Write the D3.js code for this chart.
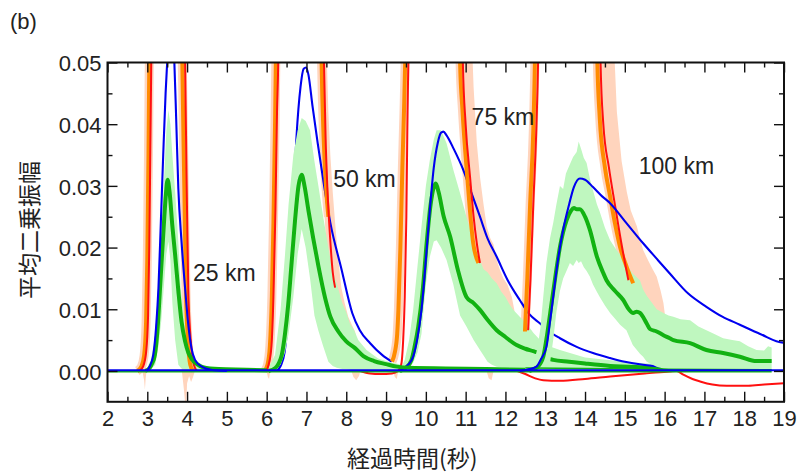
<!DOCTYPE html>
<html>
<head>
<meta charset="utf-8">
<script src="https://cdn.jsdelivr.net/npm/d3@7"></script>
<style>
  body { margin: 0; background: #fff; }
  svg text { fill: #222; }
  .latin { font-family: "Liberation Sans", Arial, sans-serif; }
  .cjk { font-family: "Noto Sans CJK JP", sans-serif; }
</style>
</head>
<body>
<svg id="chart" width="803" height="476"></svg>
<script>
// Axis ticks
const xTickValues = [2, 3, 4, 5, 6, 7, 8, 9, 10, 11, 12, 13, 14, 15, 16, 17, 18, 19];
const xMinorTicks = [2.5, 3.5, 4.5, 5.5, 6.5, 7.5, 8.5, 9.5, 10.5, 11.5, 12.5, 13.5, 14.5, 15.5, 16.5, 17.5, 18.5];
const yTickValues = [0, 0.01, 0.02, 0.03, 0.04, 0.05];
const yTickLabels = ["0.00", "0.01", "0.02", "0.03", "0.04", "0.05"];
const yMinorTicks = [0.005, 0.015, 0.025, 0.035, 0.045];

// Distance labels: [text, time, amplitude]
const distanceLabels = [["25 km", 4.15, 0.0146], ["50 km", 7.67, 0.0298], ["75 km", 11.15, 0.0399], ["100 km", 15.35, 0.0319]];

// Observed envelopes (orange) and synthetic envelopes (red): [time, amplitude]
const orange25 = [[2.75,0],[2.85,0.0007],[2.92,0.0025],[2.97,0.008],[3.00,0.018],[3.03,0.035],[3.05,0.05],[3.08,0.07],[3.85,0.07],[3.88,0.05],[3.93,0.03],[3.97,0.0134],[4.02,0.005],[4.08,0.001],[4.15,0]];
const red25 = [[2.80,0],[2.90,0.0008],[2.97,0.003],[3.02,0.009],[3.05,0.02],[3.08,0.038],[3.10,0.05],[3.13,0.07],[3.92,0.07],[3.95,0.05],[3.99,0.03],[4.03,0.0134],[4.07,0.007],[4.11,0.0037],[4.17,0.001],[4.25,0]];
const orange50 = [[5.95,0],[6.02,0.001],[6.08,0.004],[6.13,0.012],[6.17,0.024],[6.21,0.04],[6.23,0.05],[6.26,0.07],[7.34,0.07],[7.38,0.05],[7.43,0.038],[7.49,0.030],[7.55,0.025]];
const red50 = [[5.98,0],[6.05,0.001],[6.12,0.004],[6.17,0.012],[6.22,0.026],[6.26,0.042],[6.29,0.05],[6.32,0.07],[7.40,0.07],[7.44,0.05],[7.48,0.038],[7.53,0.029],[7.59,0.022],[7.66,0.016],[7.72,0.0135]];
const orange75 = [[9.15,0.0015],[9.22,0.003],[9.28,0.006],[9.31,0.0099],[9.36,0.02],[9.41,0.033],[9.45,0.042],[9.48,0.05],[9.52,0.07],[10.82,0.07],[10.86,0.05],[10.92,0.0423],[11.04,0.0315],[11.19,0.0207],[11.32,0.0175]];
const red75 = [[8.35,0],[8.60,-0.0004],[8.85,-0.0005],[9.15,-0.0004],[9.30,0],[9.38,0.001],[9.43,0.005],[9.47,0.012],[9.51,0.025],[9.54,0.042],[9.56,0.05],[9.60,0.07],[10.88,0.07],[10.93,0.05],[11.00,0.040],[11.11,0.0315],[11.20,0.025],[11.28,0.0207],[11.36,0.0175]];
const orange100 = [[12.49,0.0064],[12.55,0.015],[12.62,0.027],[12.70,0.039],[12.74,0.05],[12.78,0.07],[14.26,0.07],[14.31,0.05],[14.37,0.041],[14.50,0.033],[14.63,0.0283],[14.75,0.024],[14.88,0.0201],[15.05,0.0168],[15.21,0.0142]];
const red100 = [[12.57,0.0066],[12.63,0.015],[12.70,0.027],[12.78,0.040],[12.82,0.05],[12.86,0.07],[14.34,0.07],[14.39,0.05],[14.46,0.040],[14.60,0.033],[14.75,0.027],[14.93,0.0201],[15.09,0.0147]];
const redTail = [[12.30,0],[12.50,-0.0005],[12.75,-0.0012],[12.95,-0.0015],[13.37,-0.0016],[14.00,-0.0013],[14.63,-0.0009],[15.50,-0.0004],[16.13,-0.0001],[16.30,0],[16.47,-0.0006],[16.70,-0.0013],[16.89,-0.0017],[17.20,-0.0022],[17.56,-0.0024],[18.10,-0.0024],[18.50,-0.0022],[19.00,-0.0020]];

// Spread of the observed envelopes (peach outlines)
const peachTail50 = [[7.30,0.06],[7.47,0.06],[7.55,0.042],[7.60,0.035],[7.66,0.029],[7.72,0.024],[7.80,0.018],[7.88,0.0134],[7.96,0.011],[8.05,0.0088],[8.14,0.0075],[8.22,0.0064],[8.28,0.0045],[8.20,0.0035],[8.05,0.0040],[7.92,0.0050],[7.80,0.0064],[7.70,0.0085],[7.62,0.0115],[7.55,0.016],[7.48,0.022],[7.42,0.030],[7.37,0.040],[7.33,0.050]];
const peachTail75 = [[10.78,0.06],[11.12,0.06],[11.20,0.046],[11.28,0.037],[11.36,0.0315],[11.45,0.027],[11.53,0.0234],[11.62,0.0215],[11.70,0.0205],[11.78,0.0180],[11.86,0.0164],[11.95,0.0150],[12.05,0.0140],[12.16,0.0120],[12.22,0.0100],[12.25,0.0085],[12.15,0.0078],[12.00,0.0070],[11.85,0.0058],[11.72,0.0045],[11.62,0.0030],[11.52,0.0025],[11.45,0.0050],[11.40,0.0090],[11.34,0.0140],[11.25,0.0190],[11.15,0.0240],[11.05,0.0300],[10.95,0.0370],[10.86,0.0460]];
const peachTail100 = [[14.24,0.06],[14.68,0.06],[14.80,0.042],[14.92,0.034],[15.05,0.029],[15.15,0.026],[15.21,0.0250],[15.30,0.0235],[15.38,0.0215],[15.46,0.0196],[15.58,0.0180],[15.70,0.0165],[15.80,0.0153],[15.90,0.0130],[15.97,0.0110],[16.02,0.0085],[16.05,0.0061],[16.15,0.0035],[16.30,0.0015],[16.10,0.0008],[15.90,0.0008],[15.70,0.0015],[15.55,0.0025],[15.46,0.0034],[15.35,0.0055],[15.25,0.0072],[15.12,0.0105],[15.00,0.0140],[14.88,0.0185],[14.72,0.0250],[14.58,0.0320],[14.45,0.0400],[14.34,0.0500]];
const peachDips = [
  [[2.86,0.0005],[2.92,-0.0015],[2.94,-0.0030],[2.96,-0.0012],[2.99,0.0005]],
  [[3.86,0.0005],[3.92,-0.0030],[3.95,-0.0052],[3.98,-0.0052],[4.00,-0.0020],[4.05,-0.0008],[4.10,-0.0018],[4.15,-0.0010],[4.22,0.0005]],
  [[5.98,0.0005],[6.03,-0.0010],[6.06,-0.0013],[6.10,0.0005]],
  [[8.10,0.0005],[8.18,-0.0010],[8.25,-0.0015],[8.32,-0.0008],[8.38,0.0005]],
  [[9.15,0.0005],[9.22,-0.0010],[9.27,-0.0013],[9.32,0.0005]],
  [[11.50,0.0005],[11.58,-0.0012],[11.65,-0.0015],[11.72,0.0005]]
];

// Model envelopes (blue): [time, amplitude]
const blue25 = [[2.98,0],[3.05,0.0006],[3.15,0.0026],[3.22,0.007],[3.28,0.0134],[3.34,0.024],[3.40,0.035],[3.46,0.045],[3.50,0.05],[3.55,0.056],[3.59,0.057],[3.64,0.054],[3.68,0.05],[3.73,0.040],[3.78,0.0296],[3.86,0.021],[3.95,0.0134],[4.03,0.0075],[4.11,0.0037],[4.20,0.0018],[4.37,0.0007],[4.60,0.0002],[5.00,0]];
const blue50 = [[6.25,0],[6.35,0.0008],[6.45,0.003],[6.55,0.010],[6.65,0.024],[6.75,0.038],[6.85,0.046],[6.93,0.049],[6.99,0.0492],[7.05,0.048],[7.15,0.043],[7.28,0.037],[7.42,0.031],[7.60,0.024],[7.88,0.0165],[8.15,0.0094],[8.34,0.0066],[8.60,0.0045],[8.90,0.0026],[9.14,0.0015]];
const blue75 = [[9.35,0],[9.43,0.0004],[9.55,0.001],[9.68,0.0023],[9.78,0.005],[9.89,0.0099],[10.00,0.018],[10.10,0.0261],[10.20,0.033],[10.30,0.037],[10.38,0.0386],[10.44,0.0388],[10.52,0.0382],[10.70,0.036],[10.94,0.0326],[11.15,0.0288],[11.36,0.025],[11.55,0.0215],[11.78,0.0185],[12.05,0.0148],[12.36,0.0115],[12.60,0.0092],[12.87,0.0077],[13.12,0.0063],[13.37,0.0053],[13.79,0.0039],[14.20,0.0029],[14.63,0.0021],[15.00,0.0015],[15.46,0.001],[16.13,0.0006],[16.80,0.0003],[17.30,0.0001]];
const blue100 = [[12.36,0],[12.60,0.0003],[12.78,0.0007],[12.90,0.002],[13.03,0.0039],[13.12,0.008],[13.20,0.012],[13.32,0.018],[13.45,0.0229],[13.60,0.027],[13.72,0.0298],[13.87,0.0312],[14.00,0.031],[14.20,0.0298],[14.43,0.0283],[14.63,0.0272],[15.00,0.0243],[15.46,0.0207],[15.80,0.0182],[16.13,0.0158],[16.60,0.0125],[17.05,0.0104],[17.45,0.0088],[17.89,0.0075],[18.40,0.006],[18.98,0.0046],[19.00,0.0046]];
const blueBase = [[2,0.0001],[19,0.0001]];

// Mean of the simulations (green) and its spread: [time, amplitude], [time, low, high]
const green25 = [[2.95,0],[3.05,0.0004],[3.12,0.0012],[3.19,0.0026],[3.26,0.007],[3.32,0.0134],[3.40,0.022],[3.46,0.028],[3.51,0.031],[3.56,0.029],[3.63,0.0235],[3.70,0.0188],[3.78,0.013],[3.86,0.008],[3.95,0.0048],[4.03,0.003],[4.11,0.002],[4.25,0.0011],[4.40,0.0006],[4.80,0.0003],[5.50,0.0002],[6.00,0.0001]];
const green50 = [[6.05,0],[6.22,0.0005],[6.30,0.0012],[6.38,0.0026],[6.46,0.006],[6.54,0.0107],[6.62,0.017],[6.71,0.0242],[6.80,0.030],[6.88,0.0318],[6.95,0.030],[7.05,0.026],[7.17,0.0215],[7.30,0.017],[7.47,0.0118],[7.60,0.0088],[7.80,0.0064],[8.00,0.0048],[8.22,0.0037],[8.43,0.0024],[8.70,0.0016],[9.00,0.0011],[9.27,0.0007],[9.60,0.0005],[10.50,0.0004],[11.50,0.0003],[12.50,0.0002]];
const green75 = [[9.35,0],[9.50,0.0005],[9.64,0.0018],[9.72,0.004],[9.81,0.0072],[9.92,0.013],[10.02,0.0207],[10.12,0.027],[10.20,0.0298],[10.25,0.0304],[10.32,0.029],[10.45,0.025],[10.61,0.0218],[10.80,0.0165],[11.02,0.012],[11.20,0.011],[11.36,0.0099],[11.55,0.0083],[11.78,0.0066],[12.00,0.0055],[12.28,0.0042],[12.50,0.0036],[12.70,0.0032],[12.87,0.0028],[13.00,0.0022],[13.20,0.0018],[13.60,0.0015],[14.00,0.0012],[14.63,0.0008],[15.50,0.0006],[16.13,0.0005],[16.50,0.0004],[17.30,0.0002]];
const green100 = [[12.60,0],[12.80,0.0006],[12.95,0.0023],[13.05,0.006],[13.16,0.011],[13.27,0.016],[13.37,0.0201],[13.54,0.0245],[13.65,0.026],[13.72,0.0264],[13.79,0.0262],[13.87,0.0262],[14.00,0.025],[14.12,0.0229],[14.30,0.0185],[14.45,0.016],[14.54,0.0147],[14.75,0.013],[14.96,0.0115],[15.10,0.010],[15.21,0.0094],[15.30,0.0096],[15.38,0.0094],[15.55,0.0077],[15.63,0.0068],[15.80,0.0064],[15.97,0.0058],[16.13,0.0053],[16.22,0.005],[16.64,0.0045],[17.05,0.0034],[17.47,0.0029],[17.89,0.0023],[18.31,0.0016],[18.50,0.0016],[18.69,0.0016]];
const greenBase = [[2,-0.00012],[18.69,-0.00012]];
const greenLow = [[12.50,0.0005],[14.00,0.0004],[16.00,0.0003],[18.69,0.0002]];

const band25 = [[3.00,0,0.0005],[3.10,0.0003,0.002],[3.20,0.001,0.006],[3.28,0.004,0.0135],[3.35,0.008,0.022],[3.42,0.014,0.031],[3.48,0.019,0.039],[3.53,0.021,0.0423],[3.58,0.018,0.040],[3.63,0.011,0.035],[3.70,0.005,0.029],[3.78,0.001,0.021],[3.84,0.0005,0.0134],[3.93,0.0002,0.008],[4.03,0,0.0037],[4.20,0,0.0018],[4.40,0,0.0009],[4.60,0,0.0004]];
const band50 = [[6.05,0,0.0005],[6.21,0.0002,0.0026],[6.35,0.001,0.010],[6.46,0.003,0.0188],[6.55,0.006,0.027],[6.67,0.012,0.035],[6.78,0.019,0.039],[6.88,0.023,0.041],[6.98,0.020,0.0405],[7.09,0.015,0.039],[7.20,0.009,0.034],[7.30,0.0065,0.030],[7.42,0.004,0.025],[7.55,0.0015,0.020],[7.66,0.0008,0.016],[7.76,0.0005,0.0142],[7.90,0.0003,0.011],[8.00,0.0003,0.0095],[8.09,0.0002,0.0077],[8.20,0.0001,0.0066],[8.30,0,0.005],[8.51,0,0.0034],[8.80,0,0.002],[9.10,0,0.0014],[9.40,0,0.001]];
const band75 = [[9.40,0,0.0008],[9.47,0.0002,0.0018],[9.58,0.0005,0.005],[9.68,0.0013,0.0099],[9.79,0.003,0.017],[9.89,0.006,0.0234],[10.00,0.014,0.030],[10.10,0.0185,0.0342],[10.20,0.021,0.0375],[10.27,0.0212,0.039],[10.38,0.020,0.039],[10.52,0.018,0.0369],[10.69,0.014,0.0326],[10.86,0.009,0.0288],[11.02,0.0072,0.025],[11.20,0.005,0.021],[11.36,0.0034,0.018],[11.45,0.0025,0.0165],[11.55,0.0015,0.016],[11.66,0.001,0.0150],[11.78,0.0007,0.0142],[11.90,0.0006,0.0128],[12.00,0.0005,0.012],[12.10,0.0005,0.0108],[12.20,0.0004,0.0099],[12.36,0.0003,0.0088],[12.53,0.0003,0.0077],[12.70,0.0002,0.0062],[12.87,0.0002,0.005],[13.10,0.0002,0.0040],[13.37,0.0002,0.0034],[14.00,0.0001,0.0022],[15.00,0,0.0015],[16.00,0,0.001],[16.50,0,0.0007]];
const band100 = [[12.70,0,0.0012],[12.80,0.0002,0.0035],[12.88,0.0004,0.0070],[12.95,0.0005,0.0120],[13.03,0.0008,0.0175],[13.12,0.0013,0.0215],[13.20,0.0050,0.0240],[13.28,0.0095,0.0270],[13.37,0.0130,0.0300],[13.45,0.0150,0.0295],[13.52,0.0160,0.0320],[13.62,0.0175,0.0335],[13.70,0.0170,0.0347],[13.79,0.0180,0.0355],[13.84,0.0175,0.0372],[13.90,0.0178,0.0360],[13.97,0.0168,0.0345],[14.04,0.0162,0.0337],[14.12,0.0153,0.0312],[14.20,0.0140,0.0293],[14.30,0.0128,0.0270],[14.37,0.0120,0.0258],[14.50,0.0106,0.0232],[14.63,0.0094,0.0212],[14.75,0.0085,0.0200],[14.88,0.0075,0.0188],[15.04,0.0066,0.0172],[15.20,0.0042,0.0158],[15.38,0.0028,0.0147],[15.46,0.0023,0.0132],[15.55,0.0015,0.0122],[15.63,0.0012,0.0115],[15.80,0.0007,0.0100],[15.97,0.0004,0.0094],[16.10,0.0003,0.0090],[16.22,0.0002,0.0088],[16.40,0.0002,0.0084],[16.64,0.0001,0.0082],[16.85,0.0001,0.0072],[17.05,0,0.0066],[17.25,0,0.0060],[17.47,0,0.0053],[17.70,0,0.0050],[17.89,0,0.0048],[18.10,0,0.0040],[18.31,0,0.0034],[18.50,0,0.0033],[18.60,0,0.0040],[18.69,0,0.0038]];

// Layout
const W = 803, H = 476;
const plot = { left: 107.5, right: 784, top: 62.5, bottom: 401.8 };

const colors = {
  orange: "#ff8c00", red: "#ff1010", blue: "#0000f0",
  green: "#12b212", band: "#bff7bf", peach: "#ffd4bd", axis: "#111"
};

const svg = d3.select("#chart");
const x = d3.scaleLinear().domain([2, 19]).range([plot.left, plot.right]);
const y = d3.scaleLinear().domain([-0.005, 0.05]).range([plot.bottom, plot.top]);

svg.append("defs").append("clipPath").attr("id", "plotClip")
  .append("rect")
  .attr("x", plot.left).attr("y", plot.top)
  .attr("width", plot.right - plot.left).attr("height", plot.bottom - plot.top);

const g = svg.append("g").attr("clip-path", "url(#plotClip)");

const line = d3.line().x(d => x(d[0])).y(d => y(d[1])).curve(d3.curveMonotoneX);
const straight = d3.line().x(d => x(d[0])).y(d => y(d[1]));
const polygon = d3.line().x(d => x(d[0])).y(d => y(d[1])).curve(d3.curveLinearClosed);
const band = d3.area().x(d => x(d[0])).y0(d => y(d[1])).y1(d => y(d[2]));

function drawLine(data, color, width, gen = line) {
  g.append("path").attr("d", gen(data)).attr("fill", "none")
    .attr("stroke", color).attr("stroke-width", width)
    .attr("stroke-linejoin", "round").attr("stroke-linecap", "butt");
}
function drawBand(data) {
  g.append("path").attr("d", band(data)).attr("fill", colors.band);
}

// Peach spread around the observed envelopes
[peachTail50, peachTail75, peachTail100, ...peachDips].forEach(p =>
  g.append("path").attr("d", polygon(p)).attr("fill", colors.peach));
[orange25, orange50, orange75, orange100].forEach(d => drawLine(d, colors.peach, 9));

// 50 km model curve sits beneath the spread bands
drawLine(blue50, colors.blue, 2.1);

// Spread of the simulated envelopes
drawBand(band25);
drawBand(band50);
drawBand(band75);
drawLine(green75, colors.green, 4);
drawLine(blue75, colors.blue, 2.1);
drawBand(band100);

// Observed and synthetic envelopes
[orange25, orange50, orange75, orange100].forEach(d => drawLine(d, colors.orange, 4));
[red25, red50, red75, red100, redTail].forEach(d => drawLine(d, colors.red, 2));

// Baselines and simulation means
drawLine(greenBase, colors.green, 1.6, straight);
drawLine(greenLow, colors.green, 1.4);
[green25, green50, green100].forEach(d => drawLine(d, colors.green, 4));

// Model envelopes
drawLine(blueBase, colors.blue, 2, straight);
[blue25, blue100].forEach(d => drawLine(d, colors.blue, 2.1));

// Axes: inward ticks on all four sides
function styleAxis(sel) {
  sel.select(".domain").remove();
  sel.selectAll(".tick line").attr("stroke", colors.axis).attr("stroke-width", 1.4);
}
const axes = svg.append("g");
axes.append("g").attr("transform", `translate(0,${plot.bottom})`)
  .call(d3.axisBottom(x).tickValues(xTickValues).tickSize(-10).tickPadding(9).tickFormat(d3.format("d")))
  .call(styleAxis)
  .call(s => s.selectAll("text").attr("class", "latin").attr("font-size", 22).attr("fill", "#222"));
axes.append("g").attr("transform", `translate(0,${plot.bottom})`)
  .call(d3.axisBottom(x).tickValues(xMinorTicks).tickSize(-5).tickFormat(""))
  .call(styleAxis);
axes.append("g").attr("transform", `translate(0,${plot.top})`)
  .call(d3.axisTop(x).tickValues(xTickValues).tickSize(-10).tickFormat(""))
  .call(styleAxis);
axes.append("g").attr("transform", `translate(0,${plot.top})`)
  .call(d3.axisTop(x).tickValues(xMinorTicks).tickSize(-5).tickFormat(""))
  .call(styleAxis);
axes.append("g").attr("transform", `translate(${plot.left},0)`)
  .call(d3.axisLeft(y).tickValues(yTickValues).tickSize(-10).tickPadding(6)
    .tickFormat((d, i) => yTickLabels[i]))
  .call(styleAxis)
  .call(s => s.selectAll("text").attr("class", "latin").attr("font-size", 22).attr("dy", "0.38em").attr("fill", "#222"));
axes.append("g").attr("transform", `translate(${plot.left},0)`)
  .call(d3.axisLeft(y).tickValues(yMinorTicks).tickSize(-5).tickFormat(""))
  .call(styleAxis);
axes.append("g").attr("transform", `translate(${plot.right},0)`)
  .call(d3.axisRight(y).tickValues(yTickValues).tickSize(-10).tickFormat(""))
  .call(styleAxis);
axes.append("g").attr("transform", `translate(${plot.right},0)`)
  .call(d3.axisRight(y).tickValues(yMinorTicks).tickSize(-5).tickFormat(""))
  .call(styleAxis);

// Frame
svg.append("rect")
  .attr("x", plot.left).attr("y", plot.top)
  .attr("width", plot.right - plot.left).attr("height", plot.bottom - plot.top)
  .attr("fill", "none").attr("stroke", colors.axis).attr("stroke-width", 2);

// Distance labels
svg.selectAll(".dist").data(distanceLabels).enter().append("text")
  .attr("class", "latin dist")
  .attr("x", d => x(d[1])).attr("y", d => y(d[2]))
  .attr("font-size", 23)
  .text(d => d[0]);

// Panel tag and axis titles
svg.append("text").attr("class", "latin").attr("x", 10).attr("y", 29).attr("font-size", 22).text("(b)");
svg.append("text").attr("class", "cjk").attr("x", 347).attr("y", 467).attr("font-size", 23).text("経過時間(秒)");
svg.append("text").attr("class", "cjk").attr("font-size", 23)
  .attr("transform", "translate(38,299) rotate(-90)").text("平均二乗振幅");
</script>
</body>
</html>
